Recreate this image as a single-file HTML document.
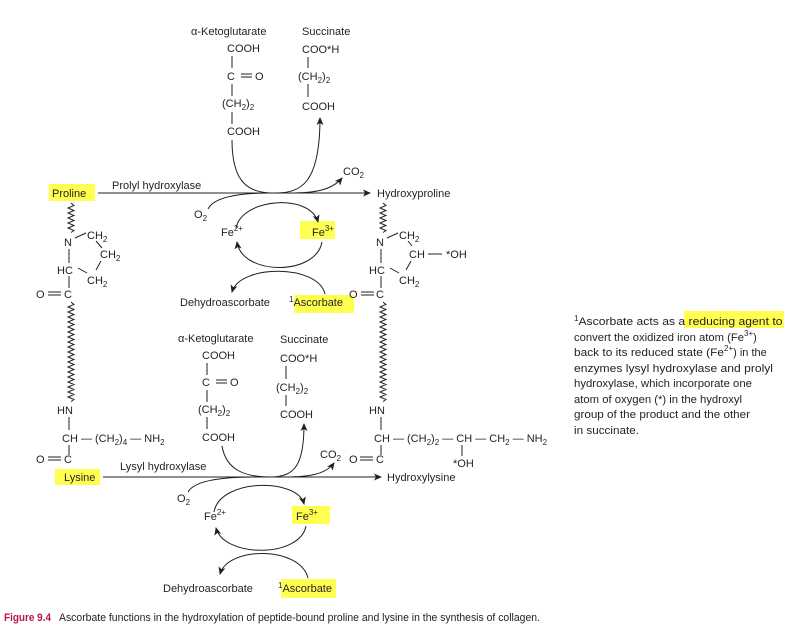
<!DOCTYPE html>
<html><head><meta charset="utf-8"><style>
html,body{margin:0;padding:0;background:#fff}
svg{display:block}
text{font-family:"Liberation Sans",sans-serif;font-size:11px;fill:#231f20}
.s{font-size:8px}
</style></head><body>
<svg width="788" height="627" viewBox="0 0 788 627" xmlns="http://www.w3.org/2000/svg">
<defs>
<marker id="a" markerWidth="8" markerHeight="8" refX="7" refY="4" orient="auto" markerUnits="userSpaceOnUse"><path d="M0,0.5 L8,4 L0,7.5 L2,4z" fill="#231f20"/></marker>
</defs>
<g fill="#ffff33" opacity="0.85">
<rect x="49" y="184" width="46" height="17"/>
<rect x="300" y="221" width="35" height="18"/>
<rect x="294" y="295" width="60" height="18"/>
<rect x="55" y="469" width="45" height="16"/>
<rect x="292" y="506" width="38" height="18"/>
<rect x="281" y="579" width="55" height="19"/>
<rect x="684" y="311" width="100" height="17"/>
</g>
<g stroke="#231f20" stroke-width="1" fill="none">
<line x1="98" y1="193" x2="370" y2="193" marker-end="url(#a)"/>
<path d="M232,140 C232,185 250,193 275,193 C300,193 320,185 320,118" marker-end="url(#a)"/>
<path d="M290,193 C315,193 332,190 342,178" marker-end="url(#a)"/>
<path d="M208,209 C214,197 240,193 270,193"/>
<path d="M236,228 C242,198 310,193 318,222" marker-end="url(#a)"/>
<path d="M322,242 C316,276 242,276 237,242" marker-end="url(#a)"/>
<path d="M325,294 C318,264 240,264 232,292" marker-end="url(#a)"/>
<line x1="103" y1="477" x2="381" y2="477" marker-end="url(#a)"/>
<path d="M222,446 C226,470 245,477 270,477 C295,477 304,465 304,424" marker-end="url(#a)"/>
<path d="M285,477 C310,477 326,474 334,463" marker-end="url(#a)"/>
<path d="M188,492 C194,481 220,477 255,477"/>
<path d="M214,512 C220,478 298,478 304,504" marker-end="url(#a)"/>
<path d="M306,526 C300,558 224,558 216,528" marker-end="url(#a)"/>
<path d="M308,578 C300,546 228,546 220,574" marker-end="url(#a)"/>
<line x1="232" y1="56" x2="232" y2="68"/><line x1="232" y1="84" x2="232" y2="96"/><line x1="232" y1="112" x2="232" y2="124"/>
<line x1="241" y1="74" x2="252" y2="74"/><line x1="241" y1="77" x2="252" y2="77"/>
<line x1="308" y1="57" x2="308" y2="68"/><line x1="308" y1="84" x2="308" y2="97"/>
<line x1="207" y1="363" x2="207" y2="375"/><line x1="207" y1="390" x2="207" y2="402"/><line x1="207" y1="417" x2="207" y2="429"/>
<line x1="216" y1="380" x2="227" y2="380"/><line x1="216" y1="383" x2="227" y2="383"/>
<line x1="286" y1="366" x2="286" y2="379"/><line x1="286" y1="395" x2="286" y2="406"/>
<path d="M71,203 l3,2.5 l-6,2.5 l6,2.5 l-6,2.5 l6,2.5 l-6,2.5 l6,2.5 l-6,2.5 l6,2.5 l-6,2.5 l6,2.5 l-3,2"/>
<line x1="75" y1="238" x2="86" y2="233"/><line x1="96" y1="241" x2="102" y2="248"/><line x1="101" y1="261" x2="96" y2="270"/>
<line x1="78" y1="268" x2="87" y2="273"/>
<line x1="69" y1="249" x2="69" y2="263"/><line x1="69" y1="276" x2="69" y2="288"/>
<line x1="48" y1="292" x2="61" y2="292"/><line x1="48" y1="295" x2="61" y2="295"/>
<path d="M71,302 l3,2.5 l-6,2.5 l6,2.5 l-6,2.5 l6,2.5 l-6,2.5 l6,2.5 l-6,2.5 l6,2.5 l-6,2.5 l6,2.5 l-6,2.5 l6,2.5 l-6,2.5 l6,2.5 l-6,2.5 l6,2.5 l-6,2.5 l6,2.5 l-6,2.5 l6,2.5 l-6,2.5 l6,2.5 l-6,2.5 l6,2.5 l-6,2.5 l6,2.5 l-6,2.5 l6,2.5 l-6,2.5 l6,2.5 l-6,2.5 l6,2.5 l-6,2.5 l6,2.5 l-6,2.5 l6,2.5 l-6,2.5 l6,2.5 l-3,2"/>
<line x1="69" y1="417" x2="69" y2="430"/><line x1="69" y1="445" x2="69" y2="455"/>
<line x1="48" y1="457" x2="61" y2="457"/><line x1="48" y1="460" x2="61" y2="460"/>
<path d="M383,203 l3,2.5 l-6,2.5 l6,2.5 l-6,2.5 l6,2.5 l-6,2.5 l6,2.5 l-6,2.5 l6,2.5 l-6,2.5 l6,2.5 l-3,2"/>
<line x1="387" y1="238" x2="398" y2="233"/><line x1="408" y1="241" x2="412" y2="246"/><line x1="411" y1="261" x2="406" y2="270"/>
<line x1="390" y1="268" x2="399" y2="273"/><line x1="428" y1="254" x2="442" y2="254"/>
<line x1="381" y1="249" x2="381" y2="263"/><line x1="381" y1="276" x2="381" y2="288"/>
<line x1="361" y1="292" x2="374" y2="292"/><line x1="361" y1="295" x2="374" y2="295"/>
<path d="M383,302 l3,2.5 l-6,2.5 l6,2.5 l-6,2.5 l6,2.5 l-6,2.5 l6,2.5 l-6,2.5 l6,2.5 l-6,2.5 l6,2.5 l-6,2.5 l6,2.5 l-6,2.5 l6,2.5 l-6,2.5 l6,2.5 l-6,2.5 l6,2.5 l-6,2.5 l6,2.5 l-6,2.5 l6,2.5 l-6,2.5 l6,2.5 l-6,2.5 l6,2.5 l-6,2.5 l6,2.5 l-6,2.5 l6,2.5 l-6,2.5 l6,2.5 l-6,2.5 l6,2.5 l-6,2.5 l6,2.5 l-6,2.5 l6,2.5 l-3,2"/>
<line x1="381" y1="417" x2="381" y2="430"/><line x1="381" y1="445" x2="381" y2="455"/>
<line x1="360" y1="457" x2="373" y2="457"/><line x1="360" y1="460" x2="373" y2="460"/>
<line x1="462" y1="445" x2="462" y2="456"/>
</g>
<text x="191" y="35">α-Ketoglutarate</text><text x="302" y="35">Succinate</text>
<text x="227" y="52">COOH</text><text x="227" y="80">C</text><text x="255" y="80">O</text>
<text x="222" y="107">(CH<tspan class="s" dy="3">2</tspan><tspan dy="-3">)</tspan><tspan class="s" dy="3">2</tspan></text>
<text x="227" y="135">COOH</text>
<text x="302" y="53">COO*H</text>
<text x="298" y="80">(CH<tspan class="s" dy="3">2</tspan><tspan dy="-3">)</tspan><tspan class="s" dy="3">2</tspan></text>
<text x="302" y="110">COOH</text>
<text x="343" y="175">CO<tspan class="s" dy="3">2</tspan></text>
<text x="52" y="197">Proline</text>
<text x="112" y="189">Prolyl hydroxylase</text>
<text x="377" y="197">Hydroxyproline</text>
<text x="194" y="218">O<tspan class="s" dy="3">2</tspan></text>
<text x="221" y="236">Fe<tspan class="s" dy="-5">2+</tspan></text>
<text x="312" y="236">Fe<tspan class="s" dy="-5">3+</tspan></text>
<text x="180" y="306">Dehydroascorbate</text>
<text x="289" y="306"><tspan class="s" dy="-4">1</tspan><tspan dy="4">Ascorbate</tspan></text>
<text x="64" y="246">N</text><text x="87" y="239">CH<tspan class="s" dy="3">2</tspan></text>
<text x="100" y="258">CH<tspan class="s" dy="3">2</tspan></text>
<text x="57" y="274">HC</text><text x="87" y="284">CH<tspan class="s" dy="3">2</tspan></text>
<text x="36" y="298">O</text><text x="64" y="298">C</text>
<text x="376" y="246">N</text><text x="399" y="239">CH<tspan class="s" dy="3">2</tspan></text>
<text x="409" y="258">CH</text><text x="446" y="258">*OH</text>
<text x="369" y="274">HC</text><text x="399" y="284">CH<tspan class="s" dy="3">2</tspan></text>
<text x="349" y="298">O</text><text x="376" y="298">C</text>
<text x="178" y="342">α-Ketoglutarate</text><text x="280" y="343">Succinate</text>
<text x="202" y="359">COOH</text><text x="202" y="386">C</text><text x="230" y="386">O</text>
<text x="198" y="413">(CH<tspan class="s" dy="3">2</tspan><tspan dy="-3">)</tspan><tspan class="s" dy="3">2</tspan></text>
<text x="202" y="441">COOH</text>
<text x="280" y="362">COO*H</text>
<text x="276" y="391">(CH<tspan class="s" dy="3">2</tspan><tspan dy="-3">)</tspan><tspan class="s" dy="3">2</tspan></text>
<text x="280" y="418">COOH</text>
<text x="320" y="458">CO<tspan class="s" dy="3">2</tspan></text>
<text x="57" y="414">HN</text>
<text x="62" y="442">CH — (CH<tspan class="s" dy="3">2</tspan><tspan dy="-3">)</tspan><tspan class="s" dy="3">4</tspan><tspan dy="-3"> — NH</tspan><tspan class="s" dy="3">2</tspan></text>
<text x="36" y="463">O</text><text x="64" y="463">C</text>
<text x="64" y="481">Lysine</text>
<text x="120" y="470">Lysyl hydroxylase</text>
<text x="387" y="481">Hydroxylysine</text>
<text x="369" y="414">HN</text>
<text x="374" y="442">CH — (CH<tspan class="s" dy="3">2</tspan><tspan dy="-3">)</tspan><tspan class="s" dy="3">2</tspan><tspan dy="-3"> — CH — CH</tspan><tspan class="s" dy="3">2</tspan><tspan dy="-3"> — NH</tspan><tspan class="s" dy="3">2</tspan></text>
<text x="349" y="463">O</text><text x="376" y="463">C</text>
<text x="453" y="467">*OH</text>
<text x="177" y="502">O<tspan class="s" dy="3">2</tspan></text>
<text x="204" y="520">Fe<tspan class="s" dy="-5">2+</tspan></text>
<text x="296" y="520">Fe<tspan class="s" dy="-5">3+</tspan></text>
<text x="163" y="592">Dehydroascorbate</text>
<text x="278" y="592"><tspan class="s" dy="-4">1</tspan><tspan dy="4">Ascorbate</tspan></text>
<g style="font-size:12px">
<text x="574" y="325"><tspan class="s" dy="-4">1</tspan><tspan dy="4" textLength="204" lengthAdjust="spacingAndGlyphs">Ascorbate acts as a reducing agent to</tspan></text>
<text x="574" y="341"><tspan textLength="170" lengthAdjust="spacingAndGlyphs">convert the oxidized iron atom (Fe</tspan><tspan class="s" dy="-5">3+</tspan><tspan dy="5">)</tspan></text>
<text x="574" y="356"><tspan textLength="150" lengthAdjust="spacingAndGlyphs">back to its reduced state (Fe</tspan><tspan class="s" dy="-5">2+</tspan><tspan dy="5">) in the</tspan></text>
<text x="574" y="372" textLength="199" lengthAdjust="spacingAndGlyphs">enzymes lysyl hydroxylase and prolyl</text>
<text x="574" y="387" textLength="178" lengthAdjust="spacingAndGlyphs">hydroxylase, which incorporate one</text>
<text x="574" y="403" textLength="168" lengthAdjust="spacingAndGlyphs">atom of oxygen (*) in the hydroxyl</text>
<text x="574" y="418" textLength="176" lengthAdjust="spacingAndGlyphs">group of the product and the other</text>
<text x="574" y="434" textLength="65" lengthAdjust="spacingAndGlyphs">in succinate.</text>
</g>
<text x="4" y="621" style="font-weight:bold;fill:#b8124f;font-size:11px" textLength="47" lengthAdjust="spacingAndGlyphs">Figure 9.4</text>
<text x="59" y="621" textLength="481" lengthAdjust="spacingAndGlyphs">Ascorbate functions in the hydroxylation of peptide-bound proline and lysine in the synthesis of collagen.</text>
</svg>
</body></html>
